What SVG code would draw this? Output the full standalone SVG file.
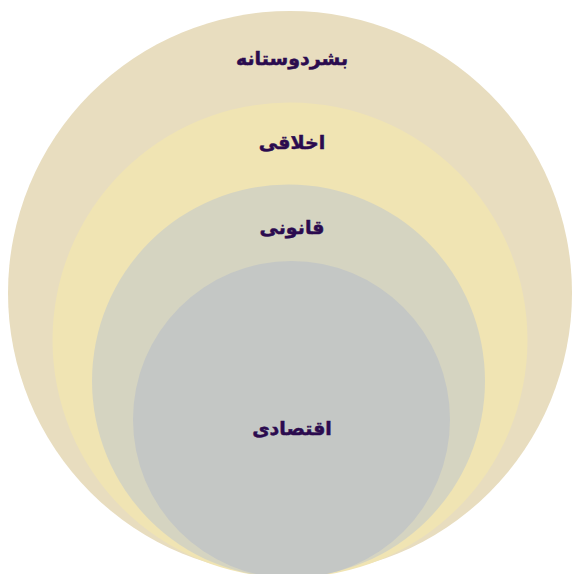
<svg xmlns="http://www.w3.org/2000/svg" width="572" height="574" viewBox="0 0 572 574">
<style>
.lbl{font-family:"DejaVu Sans",sans-serif;font-weight:bold;font-size:19px;fill:#2b0b4f;stroke:#2b0b4f;stroke-width:0.5;text-anchor:middle;direction:rtl}
</style>
<rect width="572" height="574" fill="#ffffff"/>
<g id="n1"><circle cx="290" cy="293" r="282" fill="#e8ddbf"/><text class="lbl" x="292" y="65">بشردوستانه</text></g>
<g id="n2"><circle cx="290" cy="340" r="237.5" fill="#f0e4b3"/><text class="lbl" x="292" y="149">اخلاقی</text></g>
<g id="n3"><circle cx="288.5" cy="381" r="196.5" fill="#d5d4c1"/><text class="lbl" x="292" y="234">قانونی</text></g>
<g id="n4"><circle cx="291.5" cy="419.5" r="158.5" fill="#c4c7c5"/><text class="lbl" x="292" y="435">اقتصادی</text></g>
<g id="connectors"/>
</svg>
